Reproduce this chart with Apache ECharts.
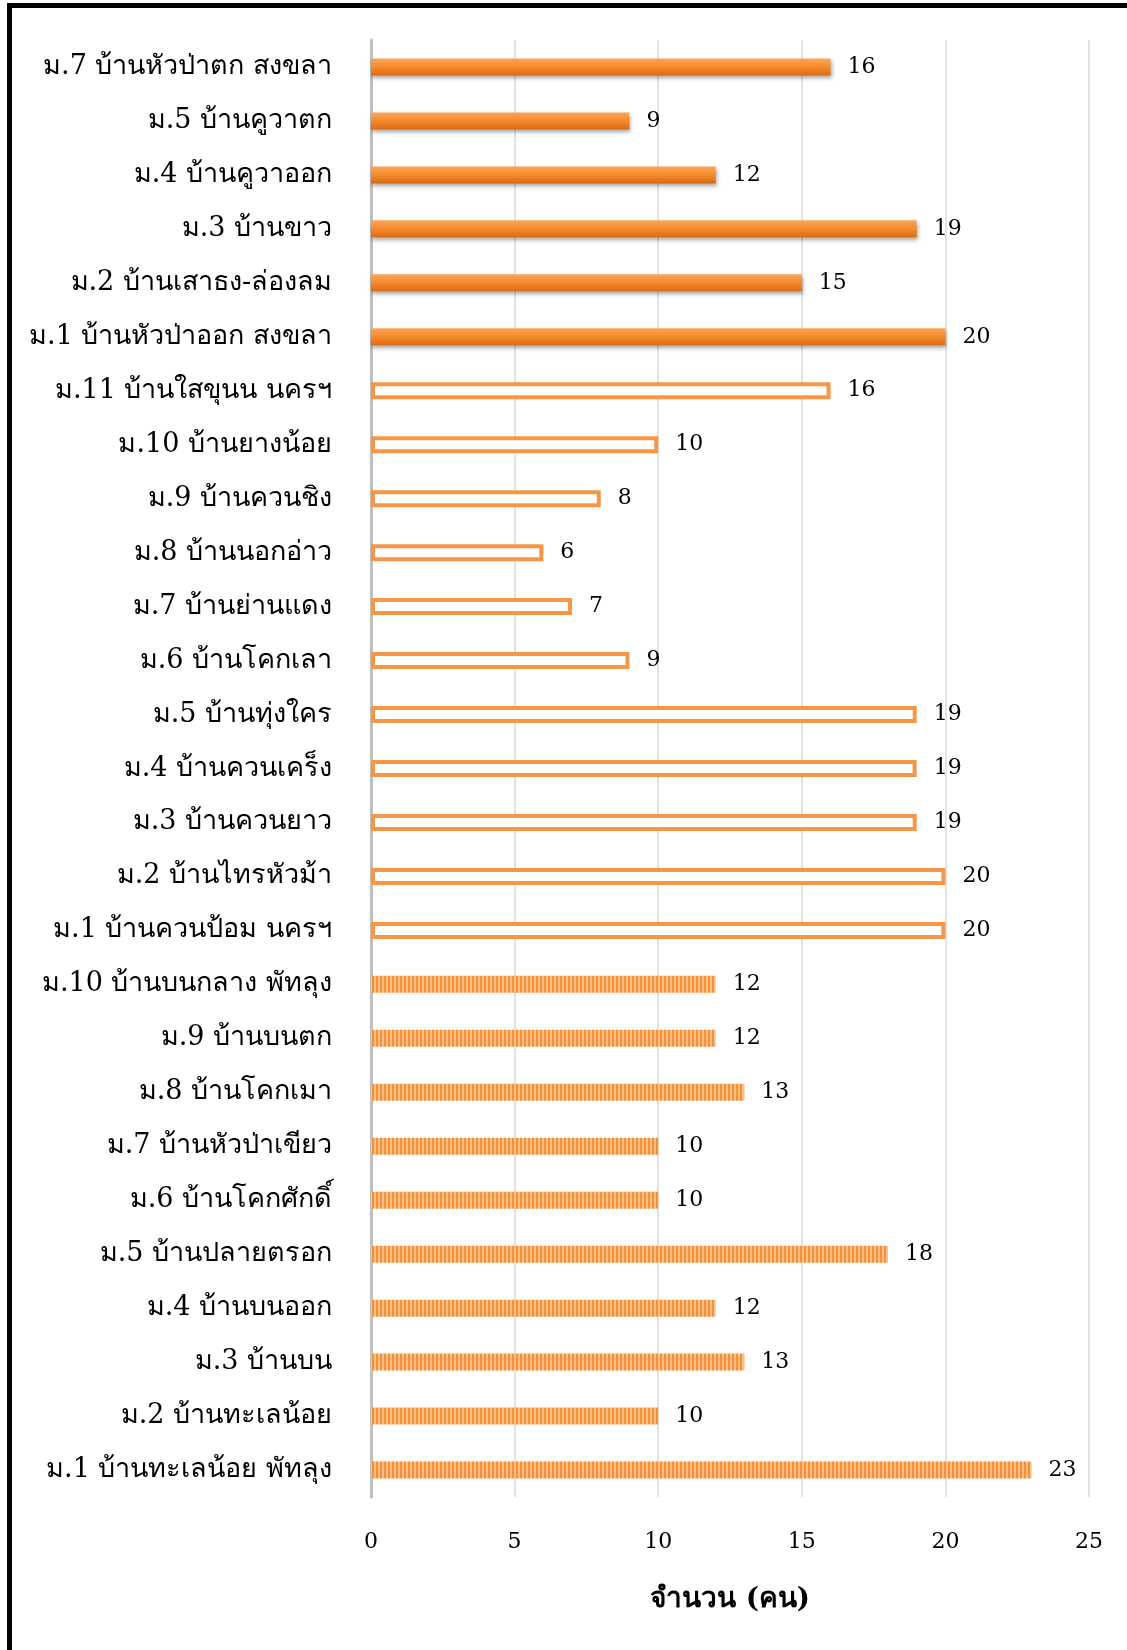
<!DOCTYPE html>
<html>
<head>
<meta charset="UTF-8">
<title></title>
<style>
  html, body { margin: 0; padding: 0; background: #fff; }
</style>
</head>
<body>
<div id="main" style="width: 1127px;height: 1650px"></div>
<script src="https://cdn.jsdelivr.net/npm/echarts@6/dist/echarts.min.js"></script>
<script>
// สงขลา (แท่งทึบ)
var songkhlaNames = ['ม.7 บ้านหัวป่าตก สงขลา', 'ม.5 บ้านคูวาตก', 'ม.4 บ้านคูวาออก', 'ม.3 บ้านขาว', 'ม.2 บ้านเสาธง-ล่องลม', 'ม.1 บ้านหัวป่าออก สงขลา'];
var songkhlaValues = [16, 9, 12, 19, 15, 20];
// นครฯ (แท่งโปร่ง)
var nakhonNames = ['ม.11 บ้านใสขุนน นครฯ', 'ม.10 บ้านยางน้อย', 'ม.9 บ้านควนชิง', 'ม.8 บ้านนอกอ่าว', 'ม.7 บ้านย่านแดง', 'ม.6 บ้านโคกเลา', 'ม.5 บ้านทุ่งใคร', 'ม.4 บ้านควนเคร็ง', 'ม.3 บ้านควนยาว', 'ม.2 บ้านไทรหัวม้า', 'ม.1 บ้านควนป้อม นครฯ'];
var nakhonValues = [16, 10, 8, 6, 7, 9, 19, 19, 19, 20, 20];
// พัทลุง (แท่งลาย)
var phatthalungNames = ['ม.10 บ้านบนกลาง พัทลุง', 'ม.9 บ้านบนตก', 'ม.8 บ้านโคกเมา', 'ม.7 บ้านหัวป่าเขียว', 'ม.6 บ้านโคกศักดิ์', 'ม.5 บ้านปลายตรอก', 'ม.4 บ้านบนออก', 'ม.3 บ้านบน', 'ม.2 บ้านทะเลน้อย', 'ม.1 บ้านทะเลน้อย พัทลุง'];
var phatthalungValues = [12, 12, 13, 10, 10, 18, 12, 13, 10, 23];
var xTicks = [0, 5, 10, 15, 20, 25];

var fontFamily = "'DejaVu Serif', 'Liberation Serif', 'Noto Sans', serif";

/* ลายเส้นตั้ง */
var hatch = document.createElement('canvas');
hatch.width = 4;
hatch.height = 4;
var hctx = hatch.getContext('2d');
hctx.fillStyle = '#fbc088';
hctx.fillRect(0, 0, 4, 4);
hctx.fillStyle = '#f78f36';
hctx.fillRect(0, 0, 2, 4);

var solidStyle = {
	color: new echarts.graphic.LinearGradient(0, 0, 0, 1, [
		{offset: 0, color: '#f9a75c'},
		{offset: 0.5, color: '#f58a2b'},
		{offset: 1, color: '#db6a12'}
	]),
	shadowColor: 'rgba(0,0,0,0.35)',
	shadowBlur: 4,
	shadowOffsetX: 1,
	shadowOffsetY: 3
};
var outlineStyle = {
	color: '#fff',
	borderColor: '#f79646',
	borderWidth: 4
};
var hatchStyle = {
	color: {image: hatch, repeat: 'repeat'}
};

var categories = [];
var barData = [];
function addGroup(names, values, style) {
	for(var i = 0; i < names.length; i++) {
		categories.push(names[i]);
		barData.push({value: values[i], itemStyle: style});
	}
}
addGroup(songkhlaNames, songkhlaValues, solidStyle);
addGroup(nakhonNames, nakhonValues, outlineStyle);
addGroup(phatthalungNames, phatthalungValues, hatchStyle);

var app = echarts.init(document.getElementById('main'));
var option = {
	backgroundColor: '#fff',
	animation: false,
	textStyle: {fontFamily: fontFamily},
	graphic: [{
		type: 'rect',
		shape: {x: 7, y: 3, width: 5, height: 1647},
		style: {fill: '#000'}
	}, {
		type: 'rect',
		shape: {x: 7, y: 3, width: 1120, height: 5},
		style: {fill: '#000'}
	}],
	grid: {
		left: 371,
		right: 38,
		top: 40,
		bottom: 153,
		containLabel: false
	},
	xAxis: {
		type: 'value',
		min: xTicks[0],
		max: xTicks[xTicks.length - 1],
		interval: xTicks[1] - xTicks[0],
		name: 'จำนวน (คน)',
		nameLocation: 'middle',
		nameGap: 89,
		nameTextStyle: {
			color: '#000',
			fontSize: 28,
			fontWeight: 'bold',
			fontFamily: fontFamily
		},
		axisLine: {show: false},
		axisTick: {show: false},
		axisLabel: {
			color: '#000',
			fontSize: 22,
			margin: 34,
			fontFamily: fontFamily
		},
		splitLine: {
			lineStyle: {color: '#d9d9d9', width: 1.5}
		}
	},
	yAxis: {
		type: 'category',
		inverse: true,
		data: categories,
		axisLine: {
			show: true,
			lineStyle: {color: '#bfbfbf', width: 3}
		},
		axisTick: {show: false},
		axisLabel: {
			color: '#000',
			fontSize: 27,
			margin: 39,
			fontFamily: fontFamily
		},
		splitLine: {show: false}
	},
	series: [{
		type: 'bar',
		barWidth: 17,
		data: barData,
		label: {
			show: true,
			position: 'right',
			distance: 17,
			color: '#000',
			fontSize: 22,
			fontFamily: fontFamily
		},
		z: 3
	}]
};
app.setOption(option);
</script>
</body>
</html>
